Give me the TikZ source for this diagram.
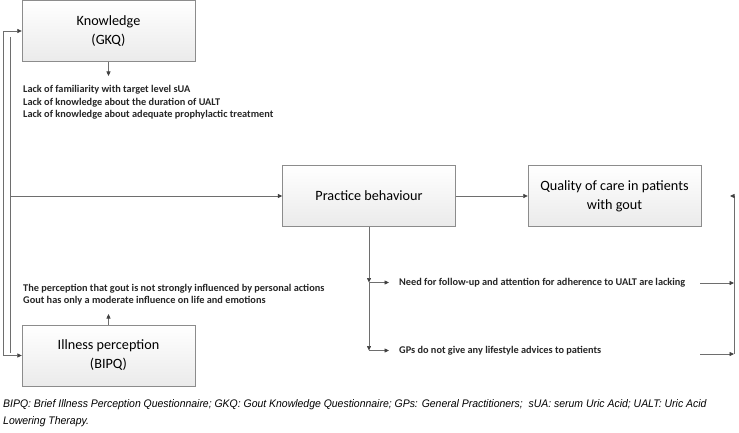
\documentclass[tikz,border=0pt]{standalone}
\usepackage{fontspec}
\setmainfont{Carlito}
\newfontfamily\capfont[FakeStretch=0.95]{Liberation Sans}
\usepackage{tikz}
\usetikzlibrary{arrows.meta,calc}
\usepackage{xcolor}
\definecolor{LineGray}{HTML}{6E6E6E}
\definecolor{BoxGray}{HTML}{8C8C8C}
\definecolor{TipGray}{HTML}{404040}

\begin{document}
\begin{tikzpicture}[x=1pt,y=-1pt,
    box/.style={draw=BoxGray, top color=white, bottom color=gray!16,
      minimum width=173pt, minimum height=61pt, inner sep=0pt,
      align=center, font=\fontsize{14.2}{19}\selectfont},
    note/.style={anchor=west, inner sep=0pt, align=left, text=black!85,
      font=\fontsize{10.3}{12.6}\selectfont\bfseries},
    arr/.style={draw=LineGray, line width=0.7pt,
      -{Triangle[length=4.5pt,width=4pt,color=TipGray]}},
    twoway/.style={draw=LineGray, line width=0.7pt,
      {Triangle[length=4.5pt,width=4pt,color=TipGray]}-{Triangle[length=4.5pt,width=4pt,color=TipGray]}},
    ln/.style={draw=LineGray, line width=0.7pt}]
    \useasboundingbox (0,0) rectangle (739,433);
    % boxes
    \node[box] (know) at (108.5,31) {Knowledge\\(GKQ)};
    \node[box] (ill) at (108.5,355.5) {Illness perception\\(BIPQ)};
    \node[box] (prac) at (369,196) {Practice behaviour};
    \node[box] (qual) at (614.5,196) {Quality of care in patients\\with gout};
    % findings
    \node[note] (lack) at (23,102.5) {Lack of familiarity with target level sUA\\
      Lack of knowledge about the duration of UALT\\
      Lack of knowledge about adequate prophylactic treatment};
    \node[note] (perc) at (23,294.5) {The perception that gout is not strongly influenced by personal actions\\
      Gout has only a moderate influence on life and emotions};
    \node[note] (follow) at (399,282.5) {Need for follow-up and attention for adherence to UALT are lacking};
    \node[note] (gps) at (399,350.5) {GPs do not give any lifestyle advices to patients};
    % caption
    \node[anchor=north west, inner sep=0pt, align=left,
      font=\capfont\itshape\fontsize{11}{17}\selectfont] (cap) at (3,399)
      {BIPQ: Brief Illness Perception Questionnaire; GKQ: Gout Knowledge Questionnaire; GPs: General Practitioners;\ \ sUA: serum Uric Acid; UALT: Uric Acid\\
       Lowering Therapy.};
    % helper points
    \coordinate (outer) at (3,0);
    \coordinate (innerTop) at (10,37);
    \coordinate (innerBot) at (10,353);
    \coordinate (kTip) at (108.5,76);
    \coordinate (pTip) at (108.5,314);
    \coordinate (d1) at (prac.south |- follow.west);
    \coordinate (d2) at (prac.south |- gps.west);
    \coordinate (d1e) at ($(d1)+(20,0)$);
    \coordinate (d2e) at ($(d2)+(20,0)$);
    \coordinate (r1s) at (700,283);
    \coordinate (r2s) at (700,354);
    \coordinate (r1) at (734,283);
    \coordinate (r2) at (734,354);
    \coordinate (rTop) at (734,196);
    \coordinate (rTip) at (730,196);
    % connectors
    \draw[arr] (know.south) -- (kTip);
    \draw[arr] (ill.north) -- (pTip);
    \draw[twoway] (know.west) -- (outer |- know.west) -- (outer |- ill.west) -- (ill.west);
    \draw[ln] (innerTop) -- (innerBot);
    \draw[arr] (innerTop |- prac.west) -- (prac.west);
    \draw[arr] (prac) -- (qual);
    \draw[arr] (prac.south) -- (d1);
    \draw[arr] (d1) -- (d2);
    \draw[arr] (d1) -- (d1e);
    \draw[arr] (d2) -- (d2e);
    \draw[arr] (r1s) -- (r1);
    \draw[arr] (r2s) -- (r2);
    \draw[arr] (r2) -- (rTop) -- (rTip);
\end{tikzpicture}
\end{document}
